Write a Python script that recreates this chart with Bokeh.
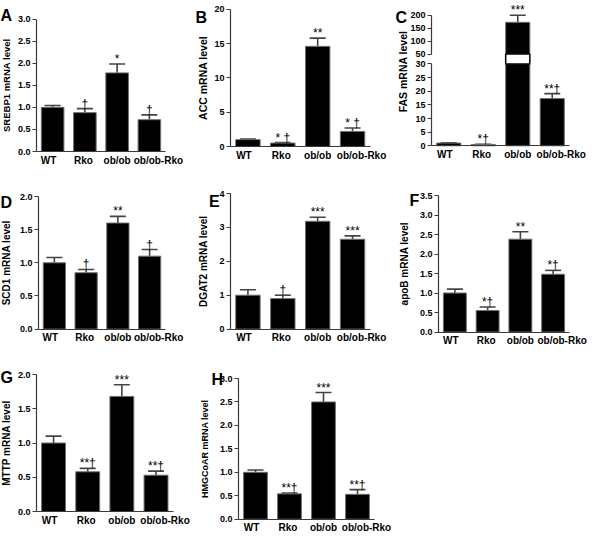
from bokeh.plotting import figure
from bokeh.layouts import row, column
from bokeh.models import (Range1d, FixedTicker, NumeralTickFormatter, LinearAxis,
                          ColumnDataSource, Whisker, TeeHead, Label)
from bokeh.core.properties import value
from bokeh.embed import file_html
from bokeh.resources import INLINE

# ---------------- data ----------------
groups = ["WT", "Rko", "ob/ob", "ob/ob-Rko"]

srebp1_mean = [1.0, 0.88, 1.78, 0.72]
srebp1_sem = [0.04, 0.09, 0.20, 0.11]
srebp1_sig = ["", "†", "*", "†"]
srebp1_ticks = [0.0, 0.5, 1.0, 1.5, 2.0, 2.5, 3.0]

acc_mean = [1.0, 0.5, 14.6, 2.2]
acc_sem = [0.08, 0.08, 1.2, 0.5]
acc_sig = ["", "* †", "**", "* †"]
acc_ticks = [0, 5, 10, 15, 20]

fas_mean = [1.0, 0.5, 172.0, 17.3]
fas_sem = [0.1, 0.08, 27.0, 1.8]
fas_sig = ["", "*†", "***", "**†"]
fas_low_ticks = [0, 5, 10, 15, 20, 25, 30]
fas_high_ticks = [50, 100, 150, 200]

scd1_mean = [1.0, 0.85, 1.6, 1.1]
scd1_sem = [0.08, 0.05, 0.1, 0.1]
scd1_sig = ["", "†", "**", "†"]
scd1_ticks = [0.0, 0.5, 1.0, 1.5, 2.0]

dgat2_mean = [1.0, 0.9, 3.18, 2.65]
dgat2_sem = [0.16, 0.1, 0.12, 0.1]
dgat2_sig = ["", "†", "***", "***"]
dgat2_ticks = [0, 1, 2, 3, 4]

apob_mean = [1.0, 0.55, 2.38, 1.48]
apob_sem = [0.1, 0.09, 0.19, 0.1]
apob_sig = ["", "*†", "**", "*†"]
apob_ticks = [0.0, 0.5, 1.0, 1.5, 2.0, 2.5, 3.0, 3.5]

mttp_mean = [1.0, 0.58, 1.68, 0.53]
mttp_sem = [0.1, 0.05, 0.17, 0.06]
mttp_sig = ["", "**†", "***", "**†"]
mttp_ticks = [0.0, 0.5, 1.0, 1.5, 2.0]

hmgcoar_mean = [1.0, 0.54, 2.5, 0.53]
hmgcoar_sem = [0.05, 0.02, 0.2, 0.1]
hmgcoar_sig = ["", "**†", "***", "**†"]
hmgcoar_ticks = [0.0, 0.5, 1.0, 1.5, 2.0, 2.5, 3.0]

# ---------------- style ----------------
FONT = "Liberation Sans"
AX = "#3a3a3a"
BAR_EDGE = "#707070"
ERR = "#444444"
LABEL_NUDGE = [-4, -1.5, 0, 9]   # px shift of category labels (as in the original)

N = len(groups)
XS = [i + 0.5 for i in range(N)]


def x_range_for(w, xL, xR):
    sw = (xR - xL) / N
    return Range1d(-xL / sw, (w - xL) / sw)


def y_range_for(h, lo, hi, T, Z):
    k = (Z - T) / (hi - lo)
    return Range1d(lo - (h - Z) / k, hi + T / k)


def base_fig(w, h, xr, yr):
    p = figure(width=w, height=h, x_range=xr, y_range=yr,
               x_axis_type=None, y_axis_type=None,
               output_backend="svg", toolbar_location=None, min_border=0)
    p.outline_line_color = None
    return p


def add_y_axis(p, ticks, fmt, range_name="default"):
    ax = LinearAxis(ticker=FixedTicker(ticks=ticks),
                    formatter=NumeralTickFormatter(format=fmt),
                    bounds=(ticks[0], ticks[-1]), fixed_location=0,
                    y_range_name=range_name)
    ax.axis_line_color = AX
    ax.axis_line_width = 1.2
    ax.major_tick_line_color = AX
    ax.major_tick_out = 4
    ax.major_tick_in = 0
    ax.minor_tick_line_color = None
    ax.major_label_text_font = FONT
    ax.major_label_text_font_size = "9px"
    ax.major_label_text_font_style = "bold"
    ax.major_label_text_color = "black"
    ax.major_label_standoff = 2
    p.add_layout(ax, "left")


def add_x_axis(p, base):
    ax = LinearAxis(ticker=FixedTicker(ticks=[]), bounds=(0, N), fixed_location=base)
    ax.axis_line_color = AX
    ax.axis_line_width = 1.2
    ax.major_tick_line_color = None
    ax.minor_tick_line_color = None
    ax.major_tick_out = 0
    ax.major_tick_in = 0
    p.add_layout(ax, "below")
    p.text(x=XS, y=[base] * N, text=groups, x_offset=LABEL_NUDGE, y_offset=3,
           text_align="center", text_baseline="top", text_font=value(FONT),
           text_font_size="10px", text_font_style="bold", text_color="black")


def draw(p, mean, sem, sig, range_name="default", bar_from=0, bar_cap=None,
         keep_bar=None, keep_err=None):
    hi = [m + s for m, s in zip(mean, sem)]
    ib = [i for i in range(N) if keep_bar is None or keep_bar(mean[i])]
    ie = [i for i in range(N) if keep_err is None or keep_err(mean[i], hi[i])]
    tops = [mean[i] if bar_cap is None else min(mean[i], bar_cap) for i in ib]
    bsrc = ColumnDataSource(dict(x=[XS[i] for i in ib], top=tops))
    esrc = ColumnDataSource(dict(x=[XS[i] for i in ie], mean=[mean[i] for i in ie],
                                 hi=[hi[i] for i in ie], sig=[sig[i] for i in ie]))
    p.vbar(x="x", top="top", bottom=bar_from, width=0.7, source=bsrc,
           fill_color="black", line_color=BAR_EDGE, line_width=1,
           y_range_name=range_name)
    p.add_layout(Whisker(base="x", lower="mean", upper="hi", source=esrc,
                         dimension="height", line_color=ERR, line_width=1.6,
                         lower_head=None, y_range_name=range_name,
                         upper_head=TeeHead(size=16, line_color=ERR, line_width=1.6)))
    p.text(x="x", y="hi", text="sig", source=esrc, y_offset=-5,
           text_align="center", text_baseline="alphabetic", y_range_name=range_name,
           text_font=value(FONT), text_font_size="12px", text_color="black")


def add_texts(p, h, let, lx, ly, ylabel, xc, yc, ysize):
    p.add_layout(Label(x=lx, y=h - ly, x_units="screen", y_units="screen",
                       text=let, text_font=FONT, text_font_size="16px",
                       text_font_style="bold", text_color="black",
                       text_align="left", text_baseline="alphabetic"))
    p.add_layout(Label(x=xc, y=h - yc, x_units="screen", y_units="screen",
                       text=ylabel, angle=90, angle_units="deg",
                       text_font=FONT, text_font_size=ysize, text_font_style="bold",
                       text_align="center", text_baseline="middle", text_color="black"))


def panel(mean, sem, sig, ticks, fmt, ylabel, let, g):
    w, h, xL, xR, T, Z, lx, ly, xc, ysize = g
    lo, hi = ticks[0], ticks[-1]
    p = base_fig(w, h, x_range_for(w, xL, xR), y_range_for(h, lo, hi, T, Z))
    draw(p, mean, sem, sig)
    add_y_axis(p, ticks, fmt)
    add_x_axis(p, lo)
    add_texts(p, h, let, lx, ly, ylabel, xc, (T + Z) / 2, ysize)
    return p


# geometry (px): width, height, y-axis x, x-axis end, top-tick y, zero y,
#                letter x, letter baseline y, y-label centre x, y-label size
geo = {
    "A": (192, 173, 36, 165, 18.5, 151, 0, 15, 6, "9.5px"),
    "B": (200, 173, 38, 177.5, 8.8, 146, 3, 17, 10, "10.5px"),
    "D": (192, 175, 38, 165, 23, 155.6, 0, 29, 6, "10px"),
    "E": (200, 175, 38, 177.5, 20, 155.6, 16.5, 28, 11, "10px"),
    "F": (198, 175, 46, 177, 22, 158.5, 17, 27, 12, "10px"),
    "G": (192, 186, 36, 172.6, 26, 163, 0, 29, 6, "10px"),
    "H": (208, 186, 46, 182, 30, 170.7, 19, 31, 12, "9px"),
}

pA = panel(srebp1_mean, srebp1_sem, srebp1_sig, srebp1_ticks, "0.0", "SREBP1 mRNA level", "A", geo["A"])
pB = panel(acc_mean, acc_sem, acc_sig, acc_ticks, "0", "ACC mRNA level", "B", geo["B"])
pD = panel(scd1_mean, scd1_sem, scd1_sig, scd1_ticks, "0.0", "SCD1 mRNA level", "D", geo["D"])
pE = panel(dgat2_mean, dgat2_sem, dgat2_sig, dgat2_ticks, "0", "DGAT2 mRNA level", "E", geo["E"])
pF = panel(apob_mean, apob_sem, apob_sig, apob_ticks, "0.0", "apoB mRNA level", "F", geo["F"])
pG = panel(mttp_mean, mttp_sem, mttp_sig, mttp_ticks, "0.0", "MTTP mRNA level", "G", geo["G"])
pH = panel(hmgcoar_mean, hmgcoar_sem, hmgcoar_sig, hmgcoar_ticks, "0.0", "HMGCoAR mRNA level", "H", geo["H"])

# ---- panel C: broken y axis (two y ranges in one figure) ----
cw, ch, cxL, cxR = 198, 173, 39, 177
low_T, low_Z = 63.4, 145.3
up_T, up_Z = 14.5, 53.6
low_lo, low_hi = fas_low_ticks[0], fas_low_ticks[-1]
up_lo, up_hi = fas_high_ticks[0], fas_high_ticks[-1]

pC = base_fig(cw, ch, x_range_for(cw, cxL, cxR), y_range_for(ch, low_lo, low_hi, low_T, low_Z))
pC.extra_y_ranges = {"upper": y_range_for(ch, up_lo, up_hi, up_T, up_Z)}
draw(pC, fas_mean, fas_sem, fas_sig, bar_cap=low_hi,
     keep_err=lambda m, h: h <= low_hi)
draw(pC, fas_mean, fas_sem, fas_sig, range_name="upper", bar_from=up_lo,
     keep_bar=lambda m: m > up_lo, keep_err=lambda m, h: m > up_lo)

# white break inside the bars that cross the axis break
k_low = (low_Z - low_T) / (low_hi - low_lo)
gap_top = low_hi + (low_T - up_Z) / k_low
brk = [i for i in range(N) if fas_mean[i] > up_lo]
pC.vbar(x=[XS[i] for i in brk], bottom=low_hi, top=gap_top, width=0.7,
        fill_color="white", line_color="black", line_width=1.5)

add_y_axis(pC, fas_low_ticks, "0")
add_y_axis(pC, fas_high_ticks, "0", range_name="upper")
add_x_axis(pC, low_lo)
add_texts(pC, ch, "C", 3, 17, "FAS mRNA level", 10, 71, "10.5px")

layout = column(row(pA, pB, pC), row(pD, pE, pF), row(pG, pH))

open("out.html", "w").write(file_html(layout, INLINE))
